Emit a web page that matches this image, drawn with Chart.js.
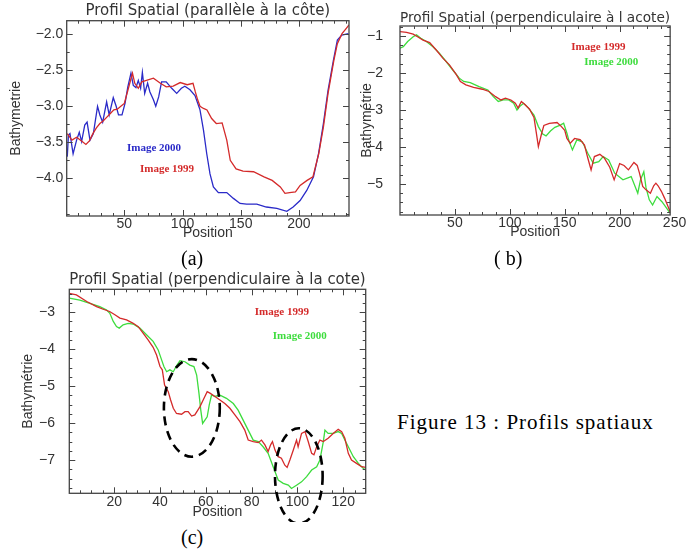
<!DOCTYPE html>
<html><head><meta charset="utf-8">
<script src="https://cdn.jsdelivr.net/npm/chart.js@4.4.1/dist/chart.umd.min.js"></script>
<style>
html,body{margin:0;padding:0;background:#fff;width:686px;height:552px;overflow:hidden;position:relative;}
canvas{position:absolute;}
.cap{position:absolute;font-family:"Liberation Serif","Times New Roman",serif;font-size:20px;line-height:20px;color:#000;white-space:nowrap;}
</style></head><body>
<canvas id="ca" width="360" height="245" style="left:0;top:0"></canvas>
<canvas id="cb" width="331" height="245" style="left:355px;top:0"></canvas>
<canvas id="cc" width="380" height="260" style="left:0;top:262px"></canvas>
<div class="cap" style="left:181px;top:248px">(a)</div>
<div class="cap" style="left:494px;top:248px">( b)</div>
<div class="cap" style="left:181px;top:527px">(c)</div>
<div class="cap" style="left:397px;top:412px;font-size:21px;line-height:21px;letter-spacing:1px">Figure 13 : Profils spatiaux</div>
<script>
// ---------- Chart (a): parallèle à la côte ----------
const aPos1999 = [1,5,9,13,17,20,23,26,29,32,35,38,41,44,47,50,53,56,57,59,62,65,69,75,81,86,92,98,104,109,111,113,115,118,121,125,129,134,138,141,146,152,161,170,177,184,188,192,197,201,207,212,217,221,225,230,233,237,240,243];
const aVal1999 = [-3.38,-3.47,-3.43,-3.48,-3.53,-3.48,-3.38,-3.3,-3.24,-3.2,-3.15,-3.1,-3.05,-3.04,-3.0,-2.96,-2.78,-2.6,-2.54,-2.68,-2.75,-2.66,-2.64,-2.61,-2.68,-2.73,-2.72,-2.67,-2.7,-2.68,-2.8,-2.91,-3.0,-3.03,-3.05,-3.17,-3.24,-3.23,-3.47,-3.75,-3.87,-3.9,-3.91,-3.98,-4.03,-4.12,-4.21,-4.2,-4.19,-4.1,-4.03,-3.98,-3.66,-3.29,-2.82,-2.36,-2.13,-1.99,-1.93,-1.87];
const aPos2000 = [1,2,3.3,6,9,11.3,13.3,16,18,20.5,23.4,27,29,31.4,34.8,37,40.5,43,45,48,50.6,53,55.7,57.7,60,62,64,65.5,67.5,70,72,75,77,79.5,82,86,90.7,95,99,102,106.4,110.7,115,118,120.8,123.6,126.5,130.8,138,143.7,149.4,155,163.8,172,181,189.6,195,201,206.7,212.5,216.8,221,225,229.6,233,236.8,242.5];
const aVal2000 = [-3.70,-3.40,-3.38,-3.66,-3.47,-3.36,-3.49,-3.26,-3.22,-3.47,-3.38,-3.0,-3.12,-3.22,-2.94,-3.12,-2.88,-3.0,-3.12,-3.12,-2.96,-2.73,-2.54,-2.71,-2.74,-2.64,-2.75,-2.53,-2.82,-2.68,-2.8,-2.91,-3.0,-2.87,-2.66,-2.66,-2.75,-2.82,-2.75,-2.72,-2.77,-2.85,-3.05,-3.33,-3.66,-3.94,-4.12,-4.2,-4.2,-4.28,-4.35,-4.36,-4.36,-4.40,-4.42,-4.46,-4.40,-4.31,-4.17,-3.98,-3.66,-3.24,-2.78,-2.36,-2.08,-2.01,-1.99];
const aXTicks = [50,100,150,200];
const aYTicks = [-4.0,-3.5,-3.0,-2.5,-2.0];

// ---------- Chart (b): perpendiculaire à l acote ----------
const bPos1999 = [0,6,12,16,21,27,33,39,45,51,55,60,67,75,81,87,92,96,101,105,107.5,110.5,114,118,122,124,126,129,131,136,143,147,150,152,155,159,164,168,171,174,177,182,186,191,195,200,204,208,213,216,218,221,224,228,231,233,235,238,241,246];
const bVal1999 = [-0.88,-0.9,-0.95,-1.02,-1.11,-1.18,-1.38,-1.6,-1.78,-2.03,-2.23,-2.32,-2.39,-2.44,-2.5,-2.64,-2.73,-2.68,-2.73,-2.82,-2.95,-2.77,-2.86,-2.98,-3.2,-3.59,-3.99,-3.63,-3.42,-3.36,-3.34,-3.45,-3.55,-3.77,-3.9,-3.77,-3.8,-3.95,-4.3,-4.62,-4.26,-4.2,-4.3,-4.55,-4.89,-4.45,-4.5,-4.62,-4.42,-4.5,-4.7,-5.07,-5.16,-5.25,-5.05,-4.98,-5.05,-5.2,-5.39,-5.75];
const bPos2000 = [0,3,7,12,15,19,24,30,36,42,48,54,58,64,72,80,85,89.5,94,99,103.5,106.5,109.5,112.5,117,122,126,130,133,137,141,146,149,152,154,157,161,166,171,176,181,185,190,195.5,203,210.5,216.5,219,222,224,227,230,234,238.5,246];
const bVal2000 = [-1.33,-1.29,-1.15,-1.02,-0.97,-1.06,-1.15,-1.29,-1.47,-1.69,-1.92,-2.14,-2.23,-2.26,-2.37,-2.46,-2.64,-2.77,-2.73,-2.73,-2.82,-3.0,-2.89,-2.82,-2.95,-3.14,-3.45,-3.65,-3.7,-3.57,-3.47,-3.41,-3.36,-3.63,-3.85,-4.08,-3.81,-3.86,-4.17,-4.44,-4.4,-4.26,-4.35,-4.71,-4.89,-4.8,-5.25,-4.89,-4.67,-5.1,-5.43,-5.57,-5.34,-5.48,-5.79];
const bXTicks = [50,100,150,200,250];
const bYTicks = [-5,-4,-3,-2,-1];

// ---------- Chart (c): perpendiculaire à la cote ----------
const cPos1999 = [0.4,3.5,8,12.3,15.2,18,20.3,22.5,25.4,28.3,30.5,32.7,34.8,37,38.5,40,41,42,43.6,44.6,45.8,47.2,49.4,50.9,52.3,53.8,55.2,57.4,58.9,60.6,61.8,64,66,68.3,70.5,72.7,74.9,77,78.5,80.7,82.9,84.3,85.8,87.2,88.3,89.1,90.2,91.6,93,94.5,95.5,96.7,98.2,99.6,100.3,101.8,103.3,104.7,106.2,107.2,108.4,109.8,111.3,113.4,115.6,117.8,119.3,120.7,122.2,123.6,125.8,128,129.8];
const cVal1999 = [-2.49,-2.53,-2.71,-2.85,-2.92,-2.98,-3.07,-3.16,-3.21,-3.30,-3.39,-3.57,-3.75,-3.95,-4.16,-4.47,-4.56,-4.97,-5.15,-5.37,-5.6,-5.74,-5.76,-5.69,-5.69,-5.81,-5.78,-5.56,-5.37,-5.15,-5.19,-5.28,-5.37,-5.47,-5.6,-5.78,-5.96,-6.19,-6.46,-6.5,-6.53,-6.46,-6.59,-6.77,-6.59,-6.5,-6.73,-6.91,-6.95,-7.14,-7.2,-7.0,-6.73,-6.46,-6.64,-6.28,-6.23,-6.5,-6.82,-6.86,-6.64,-6.46,-6.5,-6.41,-6.28,-6.17,-6.23,-6.41,-6.82,-7.0,-7.09,-7.18,-7.2];
const cPos2000 = [0.4,5,9.4,13.7,16.7,18.1,19.6,21,22.2,23.9,26.1,28.3,31.2,34.1,37,39.2,40.7,41.7,42.9,44.3,45.8,47.2,48.7,50.9,53,54.8,56,57,57.8,58.6,59.6,60.6,61.5,62.5,64,66,69,72,74.1,76.3,78.5,80.7,82.9,85,87.2,89.4,91.6,93.8,96,97.4,99.6,101.8,104,106.2,108.4,109.8,111.3,112,113.4,115.6,117.8,119.3,120.7,122.2,124.4,126.6,128.8,129.8];
const cVal2000 = [-2.62,-2.67,-2.76,-2.85,-2.94,-3.03,-3.25,-3.39,-3.43,-3.34,-3.3,-3.32,-3.43,-3.61,-3.79,-4.02,-4.29,-4.47,-4.61,-4.56,-4.61,-4.45,-4.31,-4.34,-4.43,-4.47,-4.7,-5.19,-5.65,-6.01,-5.92,-5.83,-5.51,-5.24,-5.28,-5.24,-5.33,-5.47,-5.65,-5.92,-6.19,-6.46,-6.5,-6.64,-6.82,-7.18,-7.54,-7.63,-7.68,-7.77,-7.68,-7.59,-7.45,-7.27,-7.18,-7.0,-6.5,-6.19,-6.28,-6.28,-6.23,-6.28,-6.46,-6.64,-6.91,-7.09,-7.23,-7.27];
const cXTicks = [20,40,60,80,100,120];
const cYTicks = [-7,-6,-5,-4,-3];
// highlighted zones (centre x, centre y, half-width, half-height) in data units
const cZones = [[53.9,-5.59,12.2,1.32],[100.6,-7.43,10.4,1.29]];

const RED = '#d42a2a', BLUE = '#2a2ac8', GREEN = '#3ddc3d';
const SANS = '"Liberation Sans", Arial, sans-serif';
const TITLEF = '"DejaVu Sans", sans-serif';
const TXT = '#333';

const minus = s => String(s).replace('-', '\u2212');

const idlAxes = {
  id: 'idlAxes',
  afterDatasetsDraw(chart, args, o) {
    const {ctx, chartArea: a, scales: {x, y}} = chart;
    ctx.save();
    ctx.strokeStyle = '#444';
    ctx.lineWidth = 1.3;
    ctx.strokeRect(a.left, a.top, a.right - a.left, a.bottom - a.top);
    ctx.lineWidth = 1;
    const seq = (min, max, step) => { const r = []; for (let v = Math.ceil(min / step - 1e-9) * step; v <= max + 1e-9; v += step) r.push(v); return r; };
    const drawX = (vals, len) => vals.forEach(v => {
      const p = Math.round(x.getPixelForValue(v)) + 0.5;
      if (p < a.left + 1 || p > a.right - 1) return;
      ctx.beginPath(); ctx.moveTo(p, a.bottom); ctx.lineTo(p, a.bottom - len);
      ctx.moveTo(p, a.top); ctx.lineTo(p, a.top + len); ctx.stroke();
    });
    const drawY = (vals, len) => vals.forEach(v => {
      const p = Math.round(y.getPixelForValue(v)) + 0.5;
      if (p < a.top + 1 || p > a.bottom - 1) return;
      ctx.beginPath(); ctx.moveTo(a.left, p); ctx.lineTo(a.left + len, p);
      ctx.moveTo(a.right, p); ctx.lineTo(a.right - len, p); ctx.stroke();
    });
    drawX(seq(x.min, x.max, o.xMinor), 3);
    drawX(o.xMajor, 6);
    drawY(seq(y.min, y.max, o.yMinor), 3);
    drawY(o.yMajor, 6);
    ctx.restore();
  },
  afterDraw(chart, args, o) {
    const {ctx, scales: {x, y}} = chart;
    ctx.save();
    ctx.font = 'bold 11px "Liberation Serif", serif';
    ctx.textBaseline = 'middle';
    (o.notes || []).forEach(n => {
      ctx.fillStyle = n.color;
      ctx.fillText(n.text, x.getPixelForValue(n.x), y.getPixelForValue(n.y));
    });
    ctx.strokeStyle = '#000';
    ctx.lineWidth = 2.6;
    ctx.setLineDash([9, 6]);
    (o.zones || []).forEach(z => {
      const cx = x.getPixelForValue(z[0]), cy = y.getPixelForValue(z[1]);
      const rx = Math.abs(x.getPixelForValue(z[0] + z[2]) - cx);
      const ry = Math.abs(y.getPixelForValue(z[1] + z[3]) - cy);
      ctx.beginPath(); ctx.ellipse(cx, cy, rx, ry, 0, 0, Math.PI * 2); ctx.stroke();
    });
    ctx.restore();
  }
};

function build(id, s) {
  return new Chart(document.getElementById(id), {
    type: 'line',
    data: {
      datasets: s.series.map(d => ({
        label: d.label,
        data: d.x.map((v, i) => ({x: v, y: d.y[i]})),
        borderColor: d.color, borderWidth: 1.3, pointRadius: 0, tension: 0, fill: false
      }))
    },
    options: {
      responsive: false, animation: false, devicePixelRatio: 1,
      layout: {padding: s.pad},
      plugins: {
        legend: {display: false}, tooltip: {enabled: false},
        title: {display: true, text: s.title, fullSize: false, color: TXT,
          font: {family: TITLEF, size: s.titleSize, weight: 'normal', lineHeight: s.titleLH}, padding: s.titlePad},
        idlAxes: {xMajor: s.xTicks, yMajor: s.yTicks, xMinor: s.xMinor, yMinor: s.yMinor, notes: s.notes, zones: s.zones}
      },
      scales: {
        x: {
          type: 'linear', min: s.xMin, max: s.xMax,
          afterBuildTicks: sc => { sc.ticks = s.xTicks.map(v => ({value: v})); },
          afterFit: sc => { sc.height = s.xH; },
          grid: {display: false, drawTicks: false}, border: {display: false},
          ticks: {autoSkip: false, maxRotation: 0, padding: s.xTickPad, color: TXT, font: {family: SANS, size: 14},
            callback: v => minus(v)},
          title: {display: true, text: 'Position', color: TXT, font: {family: SANS, size: 14}, padding: {top: 0, bottom: s.xTitlePad}}
        },
        y: {
          type: 'linear', min: s.yMin, max: s.yMax,
          afterBuildTicks: sc => { sc.ticks = s.yTicks.map(v => ({value: v})); },
          afterFit: sc => { sc.width = s.yW; },
          grid: {display: false, drawTicks: false}, border: {display: false},
          ticks: {autoSkip: false, padding: s.yTickPad, color: TXT, font: {family: SANS, size: 14},
            callback: v => minus(s.yDec ? Number(v).toFixed(s.yDec) : v)},
          title: {display: true, text: s.yTitle, color: TXT, font: {family: SANS, size: 14}, padding: {top: s.yTitlePad, bottom: 0}}
        }
      }
    },
    plugins: [idlAxes]
  });
}

build('ca', {
  title: 'Profil Spatial (parallèle à la côte)', titleSize: 15, titleLH: '17px', titlePad: {top: 3, bottom: 0.7},
  pad: {left: 0, right: 11, top: 0, bottom: 0},
  xMin: 0.5, xMax: 243, yMin: -4.525, yMax: -1.81,
  xTicks: aXTicks, yTicks: aYTicks, xMinor: 10, yMinor: 0.25, yDec: 1,
  xH: 29, yW: 66.7, xTickPad: 0, yTickPad: 3.4, xTitlePad: 3.6, yTitlePad: 7.6,
  yTitle: 'Bathymetrie',
  series: [
    {label: 'Image 1999', x: aPos1999, y: aVal1999, color: RED},
    {label: 'Image 2000', x: aPos2000, y: aVal2000, color: BLUE}
  ],
  notes: [
    {text: 'Image 2000', x: 52.3, y: -3.58, color: BLUE},
    {text: 'Image 1999', x: 63.5, y: -3.875, color: RED}
  ]
});

build('cb', {
  title: 'Profil Spatial (perpendiculaire à l acote)', titleSize: 14.4, titleLH: '15px', titlePad: {top: 11, bottom: 0},
  pad: {left: 0, right: 14.3, top: 0, bottom: 0},
  xMin: 0, xMax: 246, yMin: -5.84, yMax: -0.73,
  xTicks: bXTicks, yTicks: bYTicks, xMinor: 12.5, yMinor: 0.25, yDec: 0,
  xH: 30, yW: 45, xTickPad: 0, yTickPad: 17, xTitlePad: 4.9, yTitlePad: 3.6,
  yTitle: 'Bathymétrie',
  series: [
    {label: 'Image 1999', x: bPos1999, y: bVal1999, color: RED},
    {label: 'Image 2000', x: bPos2000, y: bVal2000, color: GREEN}
  ],
  notes: [
    {text: 'Image 1999', x: 156, y: -1.29, color: RED},
    {text: 'Image 2000', x: 167.8, y: -1.70, color: GREEN}
  ]
});

build('cc', {
  title: 'Profil Spatial (perpendiculaire à la cote)', titleSize: 15.5, titleLH: '15px', titlePad: {top: 10.5, bottom: 1.8},
  pad: {left: 0, right: 14.3, top: 0, bottom: 0},
  xMin: 0.4, xMax: 129.8, yMin: -7.9, yMax: -2.38,
  xTicks: cXTicks, yTicks: cYTicks, xMinor: 5, yMinor: 0.25, yDec: 0,
  xH: 28.7, yW: 69.3, xTickPad: 0, yTickPad: 14.3, xTitlePad: 1.1, yTitlePad: 19.9,
  yTitle: 'Bathymétrie',
  series: [
    {label: 'Image 1999', x: cPos1999, y: cVal1999, color: RED},
    {label: 'Image 2000', x: cPos2000, y: cVal2000, color: GREEN}
  ],
  notes: [
    {text: 'Image 1999', x: 81.4, y: -3.01, color: RED},
    {text: 'Image 2000', x: 89.2, y: -3.66, color: GREEN}
  ],
  zones: cZones
});
</script>
</body></html>
